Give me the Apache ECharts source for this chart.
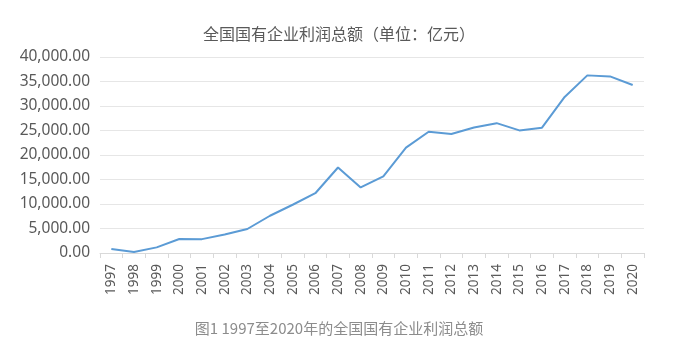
<!DOCTYPE html>
<html><head><meta charset="utf-8">
<script src="https://cdn.jsdelivr.net/npm/echarts@6/dist/echarts.min.js"></script>
<style>html,body{margin:0;padding:0;background:#fff}#c{width:680px;height:347px}</style>
</head><body><div id="c"></div>
<script>
const years = ['1997','1998','1999','2000','2001','2002','2003','2004','2005','2006','2007','2008','2009','2010','2011','2012','2013','2014','2015','2016','2017','2018','2019','2020'];
const profits = [800,210,1150,2850,2830,3790,4900,7600,9850,12200,17450,13390,15650,21500,24750,24280,25620,26500,25020,25570,31850,36250,36040,34280];
const yTicks = {min:0, max:40000, interval:5000};
const titleText = '全国国有企业利润总额（单位：亿元）';
const captionText = '图1 1997至2020年的全国国有企业利润总额';

const chart = echarts.init(document.getElementById('c'));
chart.setOption({
  animation:false,
  title:[
    {text:titleText, left:334, textAlign:'center', top:21, textStyle:{fontFamily:'Noto Sans CJK SC', fontSize:16, fontWeight:'normal', color:'#595959'}},
    {text:captionText, left:334, textAlign:'center', top:316, textStyle:{fontFamily:'Noto Sans CJK SC', fontSize:15, fontWeight:'normal', color:'#8c8c8c'}}
  ],
  grid:{left:100, right:36, top:57, bottom:94},
  xAxis:{type:'category', data:years, boundaryGap:true,
    axisLine:{lineStyle:{color:'#d9d9d9', width:1}},
    axisTick:{show:true, length:5, lineStyle:{color:'#d9d9d9'}},
    axisLabel:{rotate:90, interval:0, margin:11, color:'#595959', fontSize:13.5, fontFamily:'Noto Sans'}},
  yAxis:{type:'value', min:yTicks.min, max:yTicks.max, interval:yTicks.interval,
    axisLine:{show:false}, axisTick:{show:false},
    splitLine:{lineStyle:{color:'#e6e6e6', width:1}},
    axisLabel:{margin:10, color:'#595959', fontSize:15.5, fontFamily:'Noto Sans',
      formatter:v=>v.toLocaleString('en-US',{minimumFractionDigits:2,maximumFractionDigits:2})}},
  series:[{type:'line', data:profits, symbol:'none', lineStyle:{color:'#5b9bd5', width:2}}]
});
</script></body></html>
